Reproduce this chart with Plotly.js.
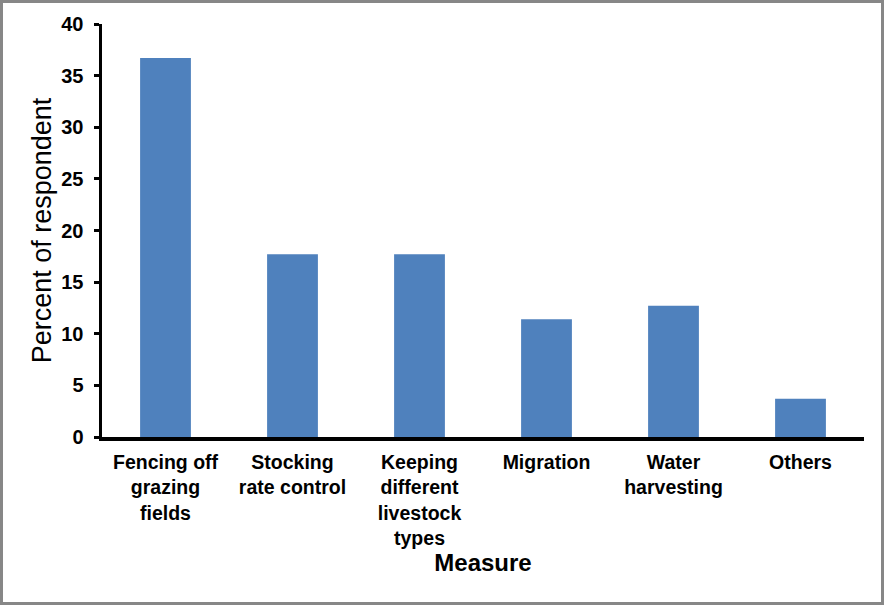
<!DOCTYPE html>
<html>
<head>
<meta charset="utf-8">
<script src="https://cdn.plot.ly/plotly-3.0.1.min.js"></script>
<style>
  html, body { margin: 0; padding: 0; background: #fff; }
  #wrap { position: relative; width: 888px; height: 607px; }
  #chart { width: 888px; height: 607px; }
  #frame { position: absolute; left: 0; top: 0; width: 878px; height: 599px; border: 3px solid #878787; pointer-events: none; }
</style>
</head>
<body>
<div id="wrap">
  <div id="chart"></div>
  <div id="frame"></div>
</div>
<script>
const categories = [
  "Fencing off<br>grazing<br>fields",
  "Stocking<br>rate control",
  "Keeping<br>different<br>livestock<br>types",
  "Migration",
  "Water<br>harvesting",
  "Others"
];
const percentValues = [36.7, 17.7, 17.7, 11.4, 12.7, 3.7];
const yTickValues = [0, 5, 10, 15, 20, 25, 30, 35, 40];

const fontFamily = "Arial, 'Liberation Sans', sans-serif";

const trace = {
  type: "bar",
  x: categories,
  y: percentValues,
  marker: { color: "#4F81BD", line: { width: 0 } },
  hoverinfo: "x+y"
};

const layout = {
  width: 888,
  height: 607,
  margin: { l: 102, r: 24, t: 24, b: 170, pad: 0 },
  paper_bgcolor: "#ffffff",
  plot_bgcolor: "#ffffff",
  bargap: 0.6,
  showlegend: false,
  font: { family: fontFamily, color: "#000000" },
  xaxis: {
    type: "category",
    range: [-0.5, 5.5],
    showline: true,
    linecolor: "#000000",
    linewidth: 3.5,
    showgrid: false,
    zeroline: false,
    ticks: "",
    ticklabelstandoff: 5,
    tickfont: { family: fontFamily, size: 19.5, color: "#000000", weight: "bold" },
    title: {
      text: "<b>Measure</b>",
      font: { family: fontFamily, size: 24, color: "#000000" },
      standoff: 6
    },
    fixedrange: true
  },
  yaxis: {
    range: [0, 40],
    tickvals: yTickValues,
    showline: true,
    linecolor: "#000000",
    linewidth: 3.5,
    showgrid: false,
    zeroline: false,
    ticks: "outside",
    ticklen: 5,
    tickwidth: 3,
    tickcolor: "#000000",
    ticklabelstandoff: 6,
    tickfont: { family: fontFamily, size: 20, color: "#000000", weight: "bold" },
    title: {
      text: "Percent of respondent",
      font: { family: fontFamily, size: 27, color: "#000000" },
      standoff: 3
    },
    fixedrange: true
  }
};

Plotly.newPlot("chart", [trace], layout, { displayModeBar: false, staticPlot: true });
</script>
</body>
</html>
